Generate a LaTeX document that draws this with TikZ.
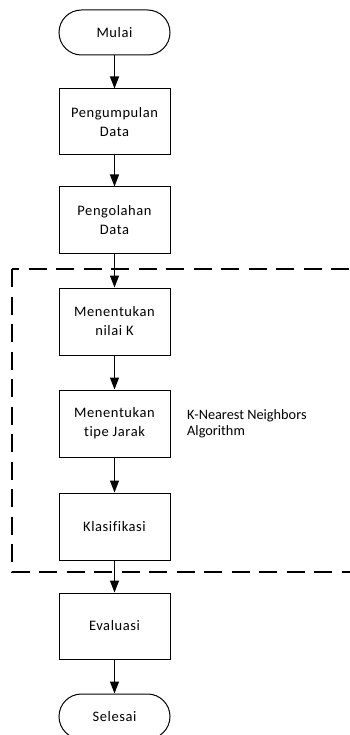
\documentclass[tikz,border=0pt]{standalone}
\usepackage{fontspec}
\setmainfont[Ligatures=NoCommon]{Carlito}
\newfontfamily\boxfont[LetterSpace=4,Ligatures=NoCommon]{Carlito}
\usetikzlibrary{arrows.meta}
\tikzset{
  procbox/.style={draw=black, line width=1pt, minimum width=111pt, minimum height=66pt, inner sep=0pt, align=center, font=\boxfont\fontsize{14.5}{19}\selectfont},
  term/.style={draw=black, line width=1pt, minimum width=111pt, minimum height=45pt, inner sep=0pt, rounded corners=22.5pt, align=center, font=\boxfont\fontsize{14.5}{19}\selectfont},
  flow/.style={line width=1.3pt, -{Triangle[length=12pt,width=9pt]}},
  group/.style={line width=1.3pt, dash pattern=on 18pt off 9.5pt}
}
\begin{document}
\begin{tikzpicture}[x=1pt,y=-1pt]
\useasboundingbox (0,0) rectangle (350,735);
\clip (0,0) rectangle (350,735);
\node[term] (start) at (114.5,32.5) {Mulai};
\node[procbox] (b1) at (114.5,122) {Pengumpulan\\Data};
\node[procbox] (b2) at (114.5,220) {Pengolahan\\Data};
\node[procbox, minimum height=67pt] (b3) at (114.5,321.5) {Menentukan\\nilai K};
\node[procbox, minimum height=67pt] (b4) at (114.5,423.5) {Menentukan\\tipe Jarak};
\node[procbox, minimum height=67pt] (b5) at (114.5,526.5) {Klasifikasi};
\node[procbox] (b6) at (114.5,626) {Evaluasi};
\node[term] (end) at (114.5,716.5) {Selesai};
\node[anchor=west, align=left, inner sep=0pt, font=\fontsize{14.3}{16.5}\selectfont] (lbl) at (187,424) {K-Nearest Neighbors\\Algorithm};
\coordinate (g1) at (12,269);
\coordinate (g2) at (400,572);
\draw[group] (g1) rectangle (g2);
\draw[flow] (start) -- (b1);
\draw[flow] (b1) -- (b2);
\draw[flow] (b2) -- (b3);
\draw[flow] (b3) -- (b4);
\draw[flow] (b4) -- (b5);
\draw[flow] (b5) -- (b6);
\draw[flow] (b6) -- (end);
\end{tikzpicture}
\end{document}
